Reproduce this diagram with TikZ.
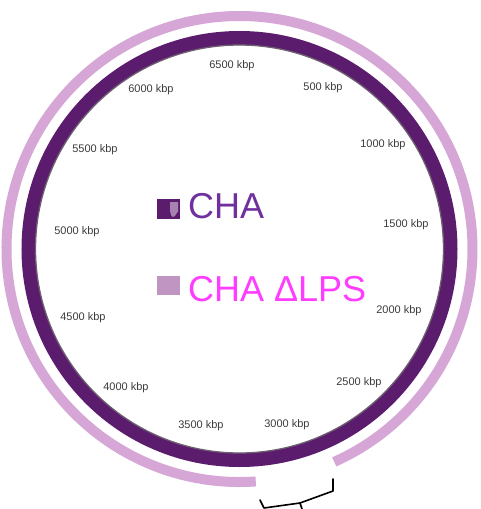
\documentclass[tikz,border=0pt]{standalone}
\usepackage{fontspec}
\setmainfont{Liberation Sans}
\definecolor{ringdark}{HTML}{5C1C6E}
\definecolor{ringpink}{HTML}{D5A6D6}
\definecolor{ringgrey}{HTML}{6E6070}
\definecolor{chapurple}{HTML}{7030A0}
\definecolor{chamag}{HTML}{FF3CFF}
\definecolor{lblgrey}{HTML}{3C3C3C}
\tikzset{
  kbp/.style={font=\fontsize{11}{12}\selectfont, text=lblgrey, inner sep=0pt},
  legtext/.style={font=\fontsize{36}{40}\selectfont, anchor=base west, inner sep=0pt},
  bracketline/.style={draw=black, line width=1.6pt, line cap=round, line join=round}
}
\begin{document}
\begin{tikzpicture}[x=1pt,y=-1pt]
\useasboundingbox (0,0) rectangle (481,509);
\fill[white] (0,0) rectangle (481,509);
\coordinate (c) at (239.5,249);
% outer pink ring (with gap at bottom; positive angles point down here)
\draw[ringpink, line width=10pt] (c) ++(86:233) arc[start angle=86, end angle=426, radius=233];
% dark ring
\draw[ringdark, line width=14pt] (c) circle[radius=211];
\draw[ringgrey, line width=1.3pt] (c) circle[radius=204];
% position labels
\node[kbp] (l6500) at (232,66) {6500 kbp};
\node[kbp] (l500) at (323,88) {500 kbp};
\node[kbp] (l1000) at (383,145) {1000 kbp};
\node[kbp] (l1500) at (406,225) {1500 kbp};
\node[kbp] (l2000) at (399,311) {2000 kbp};
\node[kbp] (l2500) at (359,383) {2500 kbp};
\node[kbp] (l3000) at (287,425) {3000 kbp};
\node[kbp] (l3500) at (201,426) {3500 kbp};
\node[kbp] (l4000) at (126,388) {4000 kbp};
\node[kbp] (l4500) at (83,318) {4500 kbp};
\node[kbp] (l5000) at (77,232) {5000 kbp};
\node[kbp] (l5500) at (95,150) {5500 kbp};
\node[kbp] (l6000) at (151,90) {6000 kbp};
% legend
\fill[ringdark] (157,199) rectangle (180,219);
\fill[ringdark!55!white] (170,202) -- (178,202) -- (178,212) to[out=90,in=0] (173,217) to[out=180,in=90] (170,211) -- cycle;
\node[legtext, text=chapurple] (cha) at (188,218) {CHA};
\fill[ringpink!90!black] (157,276) rectangle (180,295);
\node[legtext, text=chamag] (chalps) at (188,301) {CHA ΔLPS};
% bracket under the gap
\coordinate (b1) at (260,500);
\coordinate (b2) at (264,508);
\coordinate (b3) at (300,503);
\coordinate (b4) at (333,491);
\coordinate (b5) at (333,479);
\coordinate (bt) at (302,509);
\draw[bracketline] (b1) -- (b2) -- (b3) -- (b4) -- (b5);
\draw[bracketline] (b3) -- (bt);
\end{tikzpicture}
\end{document}
